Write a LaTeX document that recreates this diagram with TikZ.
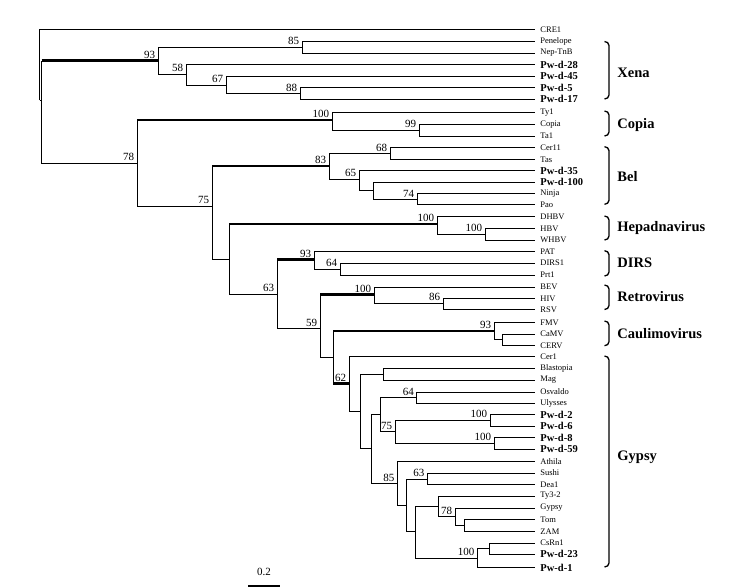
\documentclass[tikz,border=0pt]{standalone}
\usepackage{fontspec}
\setmainfont{Liberation Serif}
\begin{document}
\begin{tikzpicture}[x=1pt,y=-1pt,line width=0.9pt,
            leaf/.style={anchor=west,inner xsep=5pt,inner ysep=0.5pt,font=\fontsize{8.5}{8.5}\selectfont},
            leafb/.style={leaf,font=\bfseries\fontsize{10.5}{10.5}\selectfont},
            boot/.style={inner xsep=2.5pt,inner ysep=1.5pt,font=\fontsize{11}{11}\selectfont},
            stem/.style={line width=2.3pt},
            grp/.style={line width=1.3pt},
            grplabel/.style={anchor=west,inner sep=0pt,font=\bfseries\fontsize{14.5}{14.5}\selectfont}]
                \useasboundingbox (0,0) rectangle (738,587);
                % leaves
                \node[leaf] (cre1) at (535,29.5) {CRE1};
                \node[leaf] (penelope) at (535,41.5) {Penelope};
                \node[leaf] (neptnb) at (535,53) {Nep-TnB};
                \node[leafb] (pwd28) at (535,64.5) {Pw-d-28};
                \node[leafb] (pwd45) at (535,76) {Pw-d-45};
                \node[leafb] (pwd5) at (535,87.7) {Pw-d-5};
                \node[leafb] (pwd17) at (535,99) {Pw-d-17};
                \node[leaf] (ty1) at (535,112.5) {Ty1};
                \node[leaf] (copia) at (535,124.5) {Copia};
                \node[leaf] (ta1) at (535,136) {Ta1};
                \node[leaf] (cer11) at (535,147.7) {Cer11};
                \node[leaf] (tas) at (535,159.3) {Tas};
                \node[leafb] (pwd35) at (535,170.5) {Pw-d-35};
                \node[leafb] (pwd100) at (535,182) {Pw-d-100};
                \node[leaf] (ninja) at (535,193.3) {Ninja};
                \node[leaf] (pao) at (535,204.5) {Pao};
                \node[leaf] (dhbv) at (535,216.7) {DHBV};
                \node[leaf] (hbv) at (535,228.3) {HBV};
                \node[leaf] (whbv) at (535,240) {WHBV};
                \node[leaf] (pat) at (535,251.3) {PAT};
                \node[leaf] (dirs1) at (535,263) {DIRS1};
                \node[leaf] (prt1) at (535,275) {Prt1};
                \node[leaf] (bev) at (535,287) {BEV};
                \node[leaf] (hiv) at (535,298.5) {HIV};
                \node[leaf] (rsv) at (535,309.7) {RSV};
                \node[leaf] (fmv) at (535,322.3) {FMV};
                \node[leaf] (camv) at (535,334) {CaMV};
                \node[leaf] (cerv) at (535,345.3) {CERV};
                \node[leaf] (cer1) at (535,356.7) {Cer1};
                \node[leaf] (blastopia) at (535,368.5) {Blastopia};
                \node[leaf] (mag) at (535,380) {Mag};
                \node[leaf] (osvaldo) at (535,392) {Osvaldo};
                \node[leaf] (ulysses) at (535,403.3) {Ulysses};
                \node[leafb] (pwd2) at (535,414.5) {Pw-d-2};
                \node[leafb] (pwd6) at (535,426) {Pw-d-6};
                \node[leafb] (pwd8) at (535,437.5) {Pw-d-8};
                \node[leafb] (pwd59) at (535,449.3) {Pw-d-59};
                \node[leaf] (athila) at (535,461.5) {Athila};
                \node[leaf] (sushi) at (535,473) {Sushi};
                \node[leaf] (dea1) at (535,484.7) {Dea1};
                \node[leaf] (ty32) at (535,496) {Ty3-2};
                \node[leaf] (gypsy) at (535,508) {Gypsy};
                \node[leaf] (tom) at (535,519.7) {Tom};
                \node[leaf] (zam) at (535,531.3) {ZAM};
                \node[leaf] (csrn1) at (535,543) {CsRn1};
                \node[leafb] (pwd23) at (535,554.3) {Pw-d-23};
                \node[leafb] (pwd1) at (535,567.5) {Pw-d-1};
                % inner nodes
                \coordinate (jroot) at (39.5,100);
                \coordinate (jtop) at (41.5,100);
                \coordinate[label={[boot]above left:93}] (jxena) at (158,60.5);
                \coordinate[label={[boot]above left:85}] (j85) at (302,47);
                \coordinate[label={[boot]above left:58}] (j58) at (186,74);
                \coordinate[label={[boot]above left:67}] (j67) at (226,85);
                \coordinate[label={[boot]above left:88}] (j88) at (300,93.5);
                \coordinate[label={[boot]above left:78}] (jcore) at (137,163);
                \coordinate[label={[boot]above left:100}] (jcopia) at (332,120);
                \coordinate[label={[boot]above left:99}] (j99) at (419,130);
                \coordinate[label={[boot]above left:75}] (jrest) at (212,206);
                \coordinate[label={[boot]above left:83}] (jbel) at (329,166);
                \coordinate[label={[boot]above left:68}] (j68) at (390,153.5);
                \coordinate[label={[boot]above left:65}] (j65) at (359,179);
                \coordinate (jbel2) at (373,190);
                \coordinate[label={[boot]above left:74}] (j74) at (417,199);
                \coordinate (jr2) at (229,259);
                \coordinate[label={[boot]above left:100}] (jhepa) at (437,224);
                \coordinate[label={[boot]above left:100}] (j100h) at (485,234);
                \coordinate[label={[boot]above left:63}] (jr3) at (277,294);
                \coordinate[label={[boot]above left:93}] (jdirs) at (314,259.5);
                \coordinate[label={[boot]above left:64}] (j64d) at (340,269);
                \coordinate[label={[boot]above left:59}] (jr4) at (320,328.7);
                \coordinate[label={[boot]above left:100}] (jretro) at (374,294.5);
                \coordinate[label={[boot]above left:86}] (j86) at (443,303);
                \coordinate (jr5) at (333,357);
                \coordinate[label={[boot]above left:93}] (jcauli) at (494,331);
                \coordinate (jcauli2) at (502,339.7);
                \coordinate[label={[boot]above left:62}] (jgypsy) at (349,383.5);
                \coordinate (jg1) at (360,411);
                \coordinate (jg2) at (383,374);
                \coordinate (jg3) at (371.7,448.5);
                \coordinate (jg4) at (380.7,414);
                \coordinate[label={[boot]above left:64}] (j64g) at (416.7,397.5);
                \coordinate[label={[boot]above left:75}] (j75) at (395,431.5);
                \coordinate[label={[boot]above left:100}] (j100a) at (490,420);
                \coordinate[label={[boot]above left:100}] (j100b) at (494,443);
                \coordinate[label={[boot]above left:85}] (j85g) at (397.3,483.3);
                \coordinate (jg5) at (406.7,505);
                \coordinate[label={[boot]above left:63}] (j63) at (427.3,479);
                \coordinate (jg6) at (415.7,531.7);
                \coordinate (jg7) at (438.3,506);
                \coordinate[label={[boot]above left:78}] (j78) at (455,516.5);
                \coordinate (jg8) at (464,525.5);
                \coordinate[label={[boot]above left:100}] (j100c) at (477.3,558);
                \coordinate (jg9) at (489,548.7);
                % branches
                \foreach \p/\c in {jroot/cre1.west, jroot/jtop, jtop/jcore,
                    jxena/j85, jxena/j58, j85/penelope.west, j85/neptnb.west, j58/pwd28.west, j58/j67,
                    j67/pwd45.west, j67/j88, j88/pwd5.west, j88/pwd17.west,
                    jcore/jrest, jcopia/ty1.west, jcopia/j99, j99/copia.west, j99/ta1.west,
                    jrest/jr2, jbel/j68, jbel/j65, j68/cer11.west, j68/tas.west, j65/pwd35.west, j65/jbel2,
                    jbel2/pwd100.west, jbel2/j74, j74/ninja.west, j74/pao.west,
                    jr2/jr3, jhepa/dhbv.west, jhepa/j100h, j100h/hbv.west, j100h/whbv.west,
                    jr3/jr4, jdirs/pat.west, jdirs/j64d, j64d/dirs1.west, j64d/prt1.west,
                    jr4/jr5, jretro/bev.west, jretro/j86, j86/hiv.west, j86/rsv.west,
                    jcauli/fmv.west, jcauli/jcauli2, jcauli2/camv.west, jcauli2/cerv.west,
                    jgypsy/cer1.west, jgypsy/jg1, jg1/jg2, jg1/jg3, jg2/blastopia.west, jg2/mag.west,
                    jg3/jg4, jg3/j85g, jg4/j64g, jg4/j75, j64g/osvaldo.west, j64g/ulysses.west,
                    j75/j100a, j75/j100b, j100a/pwd2.west, j100a/pwd6.west, j100b/pwd8.west, j100b/pwd59.west,
                    j85g/athila.west, j85g/jg5, jg5/j63, jg5/jg6, j63/sushi.west, j63/dea1.west,
                    jg6/jg7, jg6/j100c, jg7/ty32.west, jg7/j78, j78/gypsy.west, j78/jg8,
                    jg8/tom.west, jg8/zam.west, j100c/jg9, j100c/pwd1.west, jg9/csrn1.west, jg9/pwd23.west}
                    \draw (\p) |- (\c);
                % thick stems of the groups
                \foreach \p/\c in {jtop/jxena, jcore/jcopia, jrest/jbel, jr2/jhepa,
                    jr3/jdirs, jr4/jretro, jr5/jcauli, jr5/jgypsy}
                {
                    \draw (\p) -- (\p |- \c);
                    \draw[stem] (\p |- \c) -- (\c);
                }
                % groups
                \foreach \a/\b/\m/\t in {41.5/99/72.7/Xena, 111/136/125/Copia, 146.7/204.3/176.7/Bel,
                    216/240/228.3/Hepadnavirus, 250.7/276/263/DIRS, 285/309.5/297/Retrovirus,
                    321/345.7/333.3/Caulimovirus, 356/567/457.7/Gypsy}
                {
                    \draw[grp] (604.5,\a) to[out=0,in=90] (609,\a+4) -- (609,\b-4) to[out=-90,in=0] (604.5,\b);
                    \node[grplabel] (lab\t) at (617,\m) {\t};
                }
                % scale
                \coordinate (bar0) at (248,585.8);
                \coordinate (bar1) at (280,585.8);
                \draw[line width=2pt] (bar0) -- (bar1);
                \node[boot] (barlabel) at (264,572) {0.2};
        \end{tikzpicture}
\end{document}
